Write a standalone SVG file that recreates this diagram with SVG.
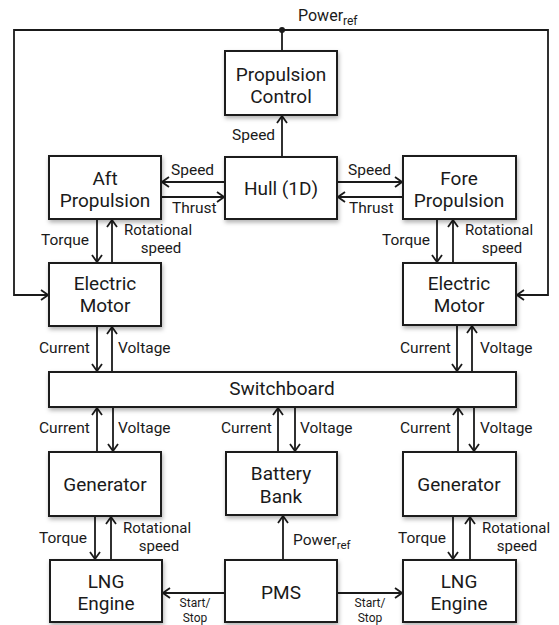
<svg xmlns="http://www.w3.org/2000/svg" width="559" height="625" viewBox="0 0 559 625">
<style>
.box{fill:#fff;stroke:#1a1a1a;stroke-width:2;filter:url(#sh)}
.ln{fill:none;stroke:#1a1a1a;stroke-width:1.8}
.arr{marker-end:url(#ah)}
text{font-family:Roboto,"Liberation Sans",sans-serif;fill:#1a1a1a}
.n{font-size:19px;text-anchor:middle}
.l{font-size:15.5px}
.r{font-size:15px}
.s{font-size:12px;text-anchor:middle}
</style>
<defs>
<filter id="sh" x="-20%" y="-20%" width="140%" height="150%">
<feDropShadow dx="1" dy="2.5" stdDeviation="2" flood-color="#000" flood-opacity="0.3"/>
</filter>
<marker id="ah" viewBox="0 0 10 12" refX="9" refY="6" markerWidth="10" markerHeight="12" markerUnits="userSpaceOnUse" orient="auto">
<path d="M2,1 L9,6 L2,11" fill="none" stroke="#1a1a1a" stroke-width="1.8"/>
</marker>
</defs>
<g id="connectors">
<path class="ln arr" d="M282,30 H14 V295 H48"/>
<path class="ln arr" d="M282,30 H548 V295 H517"/>
<path class="ln" d="M282,30 V51"/>
<circle cx="282" cy="30" r="3" fill="#1a1a1a"/>
<path class="ln arr" d="M282,157 V116"/>
<path class="ln arr" d="M225,182 H162"/>
<path class="ln arr" d="M161,197 H224"/>
<path class="ln arr" d="M337,182 H402"/>
<path class="ln arr" d="M403,197 H338"/>
<path class="ln arr" d="M97,219 V262"/>
<path class="ln arr" d="M112,263 V220"/>
<path class="ln arr" d="M437,219 V262"/>
<path class="ln arr" d="M453,263 V220"/>
<path class="ln arr" d="M97,326 V371"/>
<path class="ln arr" d="M112,372 V327"/>
<path class="ln arr" d="M457,325 V371"/>
<path class="ln arr" d="M472,372 V326"/>
<path class="ln arr" d="M97,452 V408"/>
<path class="ln arr" d="M113,407 V451"/>
<path class="ln arr" d="M278,452 V408"/>
<path class="ln arr" d="M295,407 V451"/>
<path class="ln arr" d="M458,452 V408"/>
<path class="ln arr" d="M474,407 V451"/>
<path class="ln arr" d="M95,516 V559"/>
<path class="ln arr" d="M111,560 V517"/>
<path class="ln arr" d="M453,516 V559"/>
<path class="ln arr" d="M470,560 V517"/>
<path class="ln arr" d="M283,560 V516"/>
<path class="ln arr" d="M225,593 H163"/>
<path class="ln arr" d="M337,593 H402"/>
</g>
<g id="labels">
<text x="298" y="21" font-size="16">Power<tspan font-size="12" dy="4">ref</tspan></text>
<text class="l" x="232" y="140">Speed</text>
<text class="l" x="171" y="175">Speed</text>
<text class="l" x="172" y="213">Thrust</text>
<text class="l" x="348" y="175">Speed</text>
<text class="l" x="349" y="213">Thrust</text>
<text class="l" x="41" y="245">Torque</text>
<text class="r" x="124" y="235">Rotational</text>
<text class="r" x="161" y="253" text-anchor="middle">speed</text>
<text class="l" x="382" y="245">Torque</text>
<text class="r" x="465" y="235">Rotational</text>
<text class="r" x="502" y="253" text-anchor="middle">speed</text>
<text class="l" x="39" y="353">Current</text>
<text class="l" x="118" y="353">Voltage</text>
<text class="l" x="400" y="353">Current</text>
<text class="l" x="480" y="353">Voltage</text>
<text class="l" x="39" y="433">Current</text>
<text class="l" x="118" y="433">Voltage</text>
<text class="l" x="221" y="433">Current</text>
<text class="l" x="300" y="433">Voltage</text>
<text class="l" x="400" y="433">Current</text>
<text class="l" x="480" y="433">Voltage</text>
<text class="l" x="39" y="543">Torque</text>
<text class="r" x="123" y="533">Rotational</text>
<text class="r" x="159" y="551" text-anchor="middle">speed</text>
<text class="l" x="398" y="543">Torque</text>
<text class="r" x="482" y="533">Rotational</text>
<text class="r" x="517" y="551" text-anchor="middle">speed</text>
<text x="293" y="545" font-size="15.5">Power<tspan font-size="11.5" dy="4">ref</tspan></text>
<text class="s" x="195" y="607">Start/</text>
<text class="s" x="195" y="622">Stop</text>
<text class="s" x="370" y="607">Start/</text>
<text class="s" x="370" y="622">Stop</text>
</g>
<g id="propulsion-control"><rect class="box" x="225" y="51" width="112" height="64"/><text class="n" x="281" y="81">Propulsion</text><text class="n" x="281" y="103">Control</text></g>
<g id="aft-propulsion"><rect class="box" x="49" y="156" width="112" height="63"/><text class="n" x="105" y="185">Aft</text><text class="n" x="105" y="207">Propulsion</text></g>
<g id="hull"><rect class="box" x="225" y="157" width="112" height="62"/><text class="n" x="281" y="195">Hull (1D)</text></g>
<g id="fore-propulsion"><rect class="box" x="403" y="156" width="113" height="63"/><text class="n" x="459" y="185">Fore</text><text class="n" x="459" y="207">Propulsion</text></g>
<g id="motor-left"><rect class="box" x="49" y="263" width="112" height="63"/><text class="n" x="105" y="290">Electric</text><text class="n" x="105" y="312">Motor</text></g>
<g id="motor-right"><rect class="box" x="403" y="263" width="113" height="62"/><text class="n" x="459" y="290">Electric</text><text class="n" x="459" y="312">Motor</text></g>
<g id="switchboard"><rect class="box" x="49" y="372" width="467" height="35"/><text class="n" x="282" y="395" font-size="16">Switchboard</text></g>
<g id="generator-left"><rect class="box" x="49" y="452" width="112" height="64"/><text class="n" x="105" y="491">Generator</text></g>
<g id="battery-bank"><rect class="box" x="226" y="452" width="111" height="63"/><text class="n" x="281" y="480">Battery</text><text class="n" x="281" y="503">Bank</text></g>
<g id="generator-right"><rect class="box" x="403" y="452" width="113" height="64"/><text class="n" x="459" y="491">Generator</text></g>
<g id="lng-left"><rect class="box" x="50" y="560" width="112" height="62"/><text class="n" x="106" y="588">LNG</text><text class="n" x="106" y="610">Engine</text></g>
<g id="pms"><rect class="box" x="225" y="560" width="112" height="62"/><text class="n" x="281" y="599">PMS</text></g>
<g id="lng-right"><rect class="box" x="403" y="560" width="113" height="62"/><text class="n" x="459" y="588">LNG</text><text class="n" x="459" y="610">Engine</text></g>
</svg>
